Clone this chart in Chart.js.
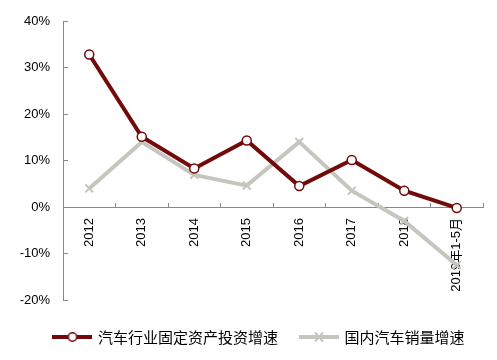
<!DOCTYPE html>
<html><head><meta charset="utf-8">
<script src="https://cdn.jsdelivr.net/npm/chart.js@4/dist/chart.umd.min.js"></script>
<style>html,body{margin:0;padding:0;background:#fff}#wrap{width:497px;height:360px}</style>
</head><body><div id="wrap"><canvas id="c" width="497" height="360"></canvas></div>
<script>
const categories = ['2012','2013','2014','2015','2016','2017','2018','2019年1-5月'];
const investGrowth = [32.8, 15.1, 8.3, 14.3, 4.5, 10.1, 3.5, -0.2];
const salesGrowth = [4.0, 14.0, 6.9, 4.6, 14.0, 3.5, -3.0, -12.5];
const seriesNames = ['汽车行业固定资产投资增速', '国内汽车销量增速'];
const yTicks = [-20, -10, 0, 10, 20, 30, 40];

const RED = '#730a0a', GREY = '#c6c6be';
function legendIcon(color, marker){
  const c = document.createElement('canvas'); c.width = 40; c.height = 12;
  const g = c.getContext('2d');
  g.strokeStyle = color; g.lineWidth = 4; g.beginPath(); g.moveTo(0,6); g.lineTo(40,6); g.stroke();
  if (marker === 'circle'){
    g.fillStyle = '#fff'; g.lineWidth = 1.5; g.beginPath(); g.arc(20,6,4.2,0,Math.PI*2); g.fill(); g.stroke();
  } else {
    g.lineWidth = 2; g.beginPath(); g.moveTo(16,1.5); g.lineTo(24,10.5); g.moveTo(24,1.5); g.lineTo(16,10.5); g.stroke();
  }
  return c;
}
const icons = [legendIcon(RED,'circle'), legendIcon(GREY,'cross')];

const legendTweak = {
  id: 'legendTweak',
  beforeLayout(chart) {
    const lg = chart.legend;
    if (lg && !lg._wrapped) {
      const orig = lg.fit;
      lg.fit = function() { orig.call(this); this.height = 60; };
      lg._wrapped = true;
    }
  },
  afterLayout(chart) {
    const lg = chart.legend;
    if (lg) { lg.left = 22; lg.right = 497; lg.top = 306.5; }
  }
};

new Chart(document.getElementById('c'), {
  type: 'line',
  data: {
    labels: categories,
    datasets: [
      {label: seriesNames[0], data: investGrowth, borderColor: RED, backgroundColor: '#fff', borderWidth: 4,
       pointStyle: 'circle', pointRadius: 4.5, pointBorderWidth: 1.5, pointBorderColor: RED, pointBackgroundColor: '#fff', tension: 0},
      {label: seriesNames[1], data: salesGrowth, borderColor: GREY, backgroundColor: GREY, borderWidth: 4,
       pointStyle: 'crossRot', pointRadius: 5.5, pointBorderWidth: 2, pointBorderColor: GREY, tension: 0}
    ]
  },
  plugins: [legendTweak],
  options: {
    responsive: false, animation: false, devicePixelRatio: 1,
    layout: {padding: {top: 21, right: 14, left: 0, bottom: 0}},
    plugins: {
      tooltip: {enabled: false},
      legend: {
        position: 'bottom',
        labels: {
          usePointStyle: true, pointStyleWidth: 36, padding: 23, color: '#000',
          font: {family: '"Noto Sans CJK SC", sans-serif', size: 15},
          generateLabels: (chart) => chart.data.datasets.map((d, i) => ({
            text: d.label, pointStyle: icons[i], datasetIndex: i, fontColor: '#000',
            strokeStyle: 'transparent', fillStyle: 'transparent', lineWidth: 0, hidden: false
          }))
        }
      }
    },
    scales: {
      x: {
        position: {y: 0}, offset: true,
        grid: {offset: true, drawOnChartArea: false, drawTicks: true, tickLength: -5, color: '#888'},
        border: {color: '#888', width: 1},
        ticks: {minRotation: 90, maxRotation: 90, autoSkip: false, padding: 16, color: '#000',
          font: {family: '"Liberation Sans", "Noto Sans CJK SC", sans-serif', size: 13}}
      },
      y: {
        min: -20, max: 40,
        afterBuildTicks: (s) => { s.ticks = yTicks.map(v => ({value: v})); },
        afterFit: (s) => { s.width = 63; s.paddingTop = 0; s.paddingBottom = 0; },
        grid: {drawOnChartArea: false, drawTicks: true, tickLength: -5, color: '#888'},
        border: {color: '#888', width: 1},
        ticks: {padding: 18, color: '#000', callback: (v) => v + '%',
          font: {family: '"Liberation Sans", sans-serif', size: 13}}
      }
    }
  }
});
</script></body></html>
